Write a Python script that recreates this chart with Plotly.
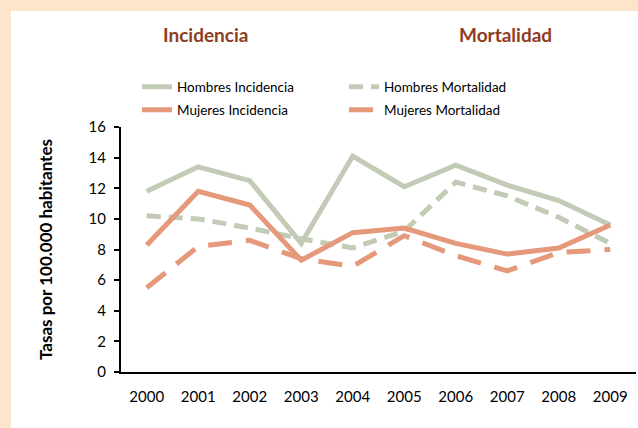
import plotly.graph_objects as go

years = ["2000", "2001", "2002", "2003", "2004", "2005", "2006", "2007", "2008", "2009"]
hombres_incidencia = [11.8, 13.4, 12.5, 8.4, 14.1, 12.1, 13.5, 12.2, 11.2, 9.6]
hombres_mortalidad = [10.2, 10.0, 9.4, 8.7, 8.1, 9.2, 12.4, 11.5, 10.1, 8.4]
mujeres_incidencia = [8.3, 11.8, 10.9, 7.3, 9.1, 9.4, 8.4, 7.7, 8.1, 9.6]
mujeres_mortalidad = [5.5, 8.2, 8.6, 7.4, 6.9, 8.9, 7.6, 6.6, 7.8, 8.0]
y_ticks = [0, 2, 4, 6, 8, 10, 12, 14, 16]

GREEN = "#c2cbb6"
ORANGE = "#e5987a"
FONT = "Lato, 'Open Sans', sans-serif"

W, H = 638, 428
L, R, T, B = 121, 2, 127, 56
pw, ph = W - L - R, H - T - B


def px_x(p):
    return (p - L) / pw


def px_y(p):
    return (H - B - p) / ph


fig = go.Figure()
fig.add_trace(go.Scatter(x=years, y=hombres_incidencia, name="Hombres Incidencia", mode="lines",
                         line=dict(color=GREEN, width=5), legend="legend"))
fig.add_trace(go.Scatter(x=years, y=hombres_mortalidad, name="Hombres Mortalidad", mode="lines",
                         line=dict(color=GREEN, width=5, dash="14px,8px"), legend="legend"))
fig.add_trace(go.Scatter(x=years, y=mujeres_incidencia, name="Mujeres Incidencia", mode="lines",
                         line=dict(color=ORANGE, width=5), legend="legend2"))
fig.add_trace(go.Scatter(x=years, y=mujeres_mortalidad, name="Mujeres Mortalidad", mode="lines",
                         line=dict(color=ORANGE, width=5, dash="24px,14px"), legend="legend2"))

fig.add_shape(type="rect", xref="paper", yref="paper",
              x0=px_x(11), x1=px_x(W + 5), y0=px_y(H + 5), y1=px_y(11),
              fillcolor="white", line=dict(width=0), layer="below")

fig.add_annotation(text="<b>Incidencia</b>", xref="paper", yref="paper", x=px_x(205), y=px_y(35),
                   xanchor="center", yanchor="middle", showarrow=False,
                   font=dict(size=19, color="#8e3e1f", family=FONT))
fig.add_annotation(text="<b>Mortalidad</b>", xref="paper", yref="paper", x=px_x(505), y=px_y(35),
                   xanchor="center", yanchor="middle", showarrow=False,
                   font=dict(size=19, color="#8e3e1f", family=FONT))
fig.add_annotation(text="<b>Tasas por 100.000 habitantes</b>", xref="paper", yref="paper",
                   x=px_x(45), y=px_y(250), xanchor="center", yanchor="middle", textangle=-90,
                   showarrow=False, font=dict(size=17, color="black", family=FONT))

leg_common = dict(orientation="h", xanchor="left", yanchor="middle",
                  entrywidth=162, entrywidthmode="pixels", traceorder="normal",
                  font=dict(size=13.5, family=FONT), bgcolor="rgba(0,0,0,0)")

fig.update_layout(
    width=W, height=H,
    margin=dict(l=L, r=R, t=T, b=B),
    paper_bgcolor="#fde5cc",
    plot_bgcolor="white",
    font=dict(family=FONT, size=15, color="black"),
    showlegend=True,
    legend=dict(x=px_x(137), y=px_y(87), **leg_common),
    legend2=dict(x=px_x(137), y=px_y(110), **leg_common),
    xaxis=dict(type="category", range=[-0.5, 9.5], showgrid=False, showline=True,
               linecolor="black", linewidth=2, ticks="", ticklabelstandoff=10,
               tickfont=dict(size=15)),
    yaxis=dict(range=[0, 16], tickvals=y_ticks, showgrid=False, showline=True, linecolor="black",
               linewidth=2, ticks="outside", ticklen=5, tickwidth=2, tickcolor="black",
               ticklabelstandoff=5, zeroline=False, tickfont=dict(size=15)),
)

fig.write_html("out.html", config={"displayModeBar": False},
               post_script="document.body.style.margin='0';document.body.style.overflow='hidden';")
